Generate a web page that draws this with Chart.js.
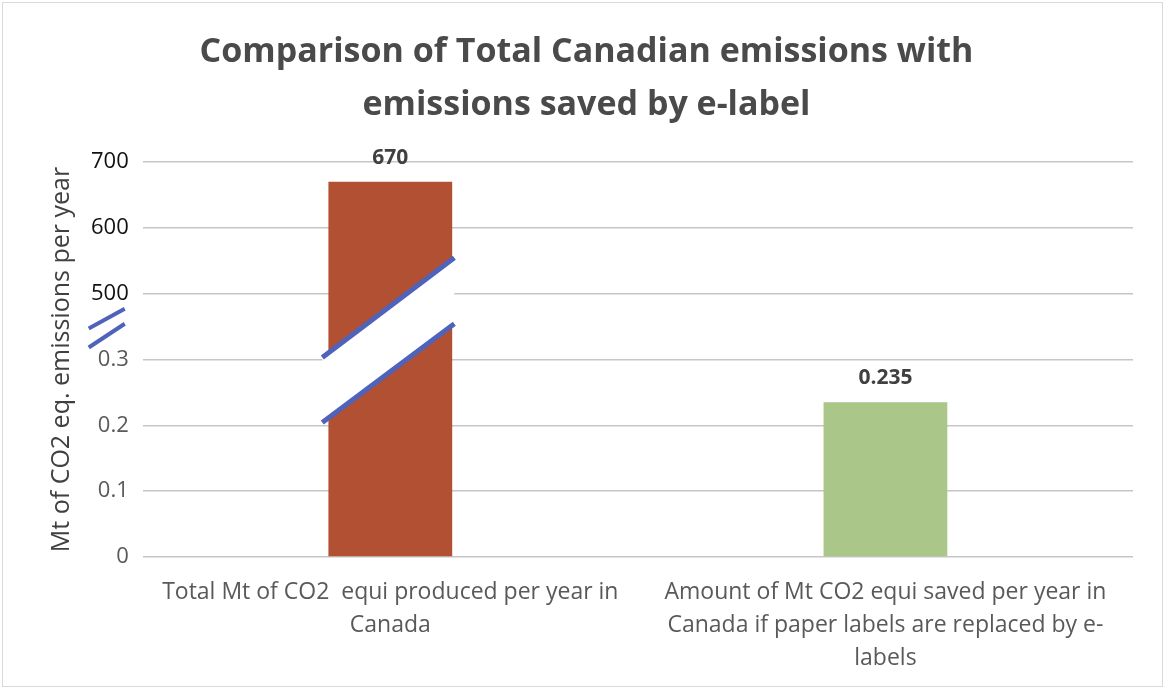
<!DOCTYPE html>
<html>
<head>
<meta charset="utf-8">
<script src="https://cdn.jsdelivr.net/npm/chart.js@4.4.1/dist/chart.umd.min.js"></script>
<style>
  html, body { margin: 0; padding: 0; background: #fff; }
  #wrap { position: relative; width: 1164px; height: 689px; }
  #frame { position: absolute; left: 2px; top: 2px; width: 1159px; height: 683px; border: 1px solid #d9d9d9; }
  #chart { position: absolute; left: 0; top: 0; }
</style>
</head>
<body>
<div id="wrap">
  <div id="frame"></div>
  <canvas id="chart" width="1164" height="689"></canvas>
</div>
<script>
let categories = [
    ["Total Mt of CO2  equi produced per year in", "Canada"],
    ["Amount of Mt CO2 equi saved per year in", "Canada if paper labels are replaced by e-", "labels"]
];
let emissions = [670, 0.235];
let barColors = ["#b25034", "#aac789"];
let tickValues = [0, 0.1, 0.2, 0.3, 500, 600, 700];
let tickLabels = ["0", "0.1", "0.2", "0.3", "500", "600", "700"];

// axis with a break between 0.3 and 500: every tick gets one equal step
function toSteps(v) {
    for (let i = 1; i < tickValues.length; i++) {
        if (v <= tickValues[i]) {
            let a = tickValues[i - 1], b = tickValues[i];
            return (i - 1) + (v - a) / (b - a);
        }
    }
    let n = tickValues.length - 1;
    return n + (v - tickValues[n]) / (tickValues[n] - tickValues[n - 1]);
}

function fromSteps(s) {
    let i = Math.max(0, Math.min(tickValues.length - 2, Math.floor(s)));
    let a = tickValues[i], b = tickValues[i + 1];
    return a + (s - i) * (b - a);
}

class BrokenScale extends Chart.LinearScale {
    determineDataLimits() {
        this.min = tickValues[0];
        this.max = tickValues[tickValues.length - 1];
    }
    buildTicks() {
        return tickValues.map(function (v) { return { value: v }; });
    }
    getPixelForValue(value) {
        return this.getPixelForDecimal(toSteps(value) / (tickValues.length - 1));
    }
    getValueForPixel(pixel) {
        return fromSteps(this.getDecimalForPixel(pixel) * (tickValues.length - 1));
    }
}
BrokenScale.id = "broken";
BrokenScale.defaults = {};
Chart.register(BrokenScale);

const breakMarks = {
    id: "breakMarks",
    afterDatasetsDraw(chart) {
        let ctx = chart.ctx;
        let y = chart.scales.y;
        let x = chart.scales.x;
        let yLow = y.getPixelForValue(0.3);
        let yHigh = y.getPixelForValue(500);
        let xc = x.getPixelForValue(0);
        let x1 = xc - 68, x2 = xc + 64;

        ctx.save();
        // white gap cut across the tall bar
        ctx.fillStyle = "#ffffff";
        ctx.beginPath();
        ctx.moveTo(x1, yLow - 2);
        ctx.lineTo(x2, yHigh - 36);
        ctx.lineTo(x2, yHigh + 30);
        ctx.lineTo(x1, yLow + 63);
        ctx.closePath();
        ctx.fill();

        ctx.strokeStyle = "#4e63b9";
        ctx.lineWidth = 5;
        ctx.beginPath();
        ctx.moveTo(x1, yLow - 2);
        ctx.lineTo(x2, yHigh - 36);
        ctx.moveTo(x1, yLow + 63);
        ctx.lineTo(x2, yHigh + 30);
        ctx.stroke();

        // small break sign on the axis
        let ax1 = chart.chartArea.left - 54, ax2 = chart.chartArea.left - 18;
        ctx.lineWidth = 4;
        ctx.beginPath();
        ctx.moveTo(ax1, yLow - 31);
        ctx.lineTo(ax2, yHigh + 15);
        ctx.moveTo(ax1, yLow - 12);
        ctx.lineTo(ax2, yHigh + 30);
        ctx.stroke();
        ctx.restore();
    }
};

const valueLabels = {
    id: "valueLabels",
    afterDatasetsDraw(chart) {
        let ctx = chart.ctx;
        let meta = chart.getDatasetMeta(0);
        ctx.save();
        ctx.font = "bold 21px 'Open Sans'";
        ctx.fillStyle = "#404040";
        ctx.textAlign = "center";
        ctx.textBaseline = "middle";
        meta.data.forEach(function (bar, i) {
            ctx.fillText(String(emissions[i]), bar.x, bar.y - 24);
        });
        ctx.restore();
    }
};

new Chart(document.getElementById("chart").getContext("2d"), {
    type: "bar",
    data: {
        labels: categories,
        datasets: [{
            data: emissions,
            backgroundColor: barColors,
            barPercentage: 1,
            categoryPercentage: 0.25
        }]
    },
    options: {
        responsive: false,
        animation: false,
        layout: { padding: { left: 40, right: 31, top: 0, bottom: -4 } },
        plugins: {
            legend: { display: false },
            tooltip: { enabled: false },
            title: {
                display: true,
                text: ["Comparison of Total Canadian emissions with", "emissions saved by e-label"],
                color: "#4a4a4a",
                font: { family: "'Open Sans'", size: 34, weight: "bold", lineHeight: 1.56 },
                padding: { top: 26, bottom: 30 }
            }
        },
        scales: {
            x: {
                grid: { display: false, drawTicks: false },
                border: { display: false },
                ticks: {
                    color: "#595959",
                    font: { family: "'Open Sans'", size: 23, lineHeight: 1.435 },
                    padding: 18.5,
                    maxRotation: 0,
                    autoSkip: false
                }
            },
            y: {
                type: "broken",
                grid: { color: "#c6c6c6", lineWidth: 1.5, drawTicks: false },
                border: { display: false },
                ticks: {
                    autoSkip: false,
                    padding: 14,
                    font: { family: "'Open Sans'", size: 22 },
                    color: function (c) { return c.tick && c.tick.value >= 500 ? "#111111" : "#595959"; },
                    callback: function (value, index) { return tickLabels[index]; }
                },
                title: {
                    display: true,
                    text: "Mt of CO2 eq. emissions per year",
                    color: "#404040",
                    font: { family: "'Open Sans'", size: 25, lineHeight: 1.2 },
                    padding: { top: 7, bottom: 0 }
                }
            }
        }
    },
    plugins: [breakMarks, valueLabels]
});
</script>
</body>
</html>
